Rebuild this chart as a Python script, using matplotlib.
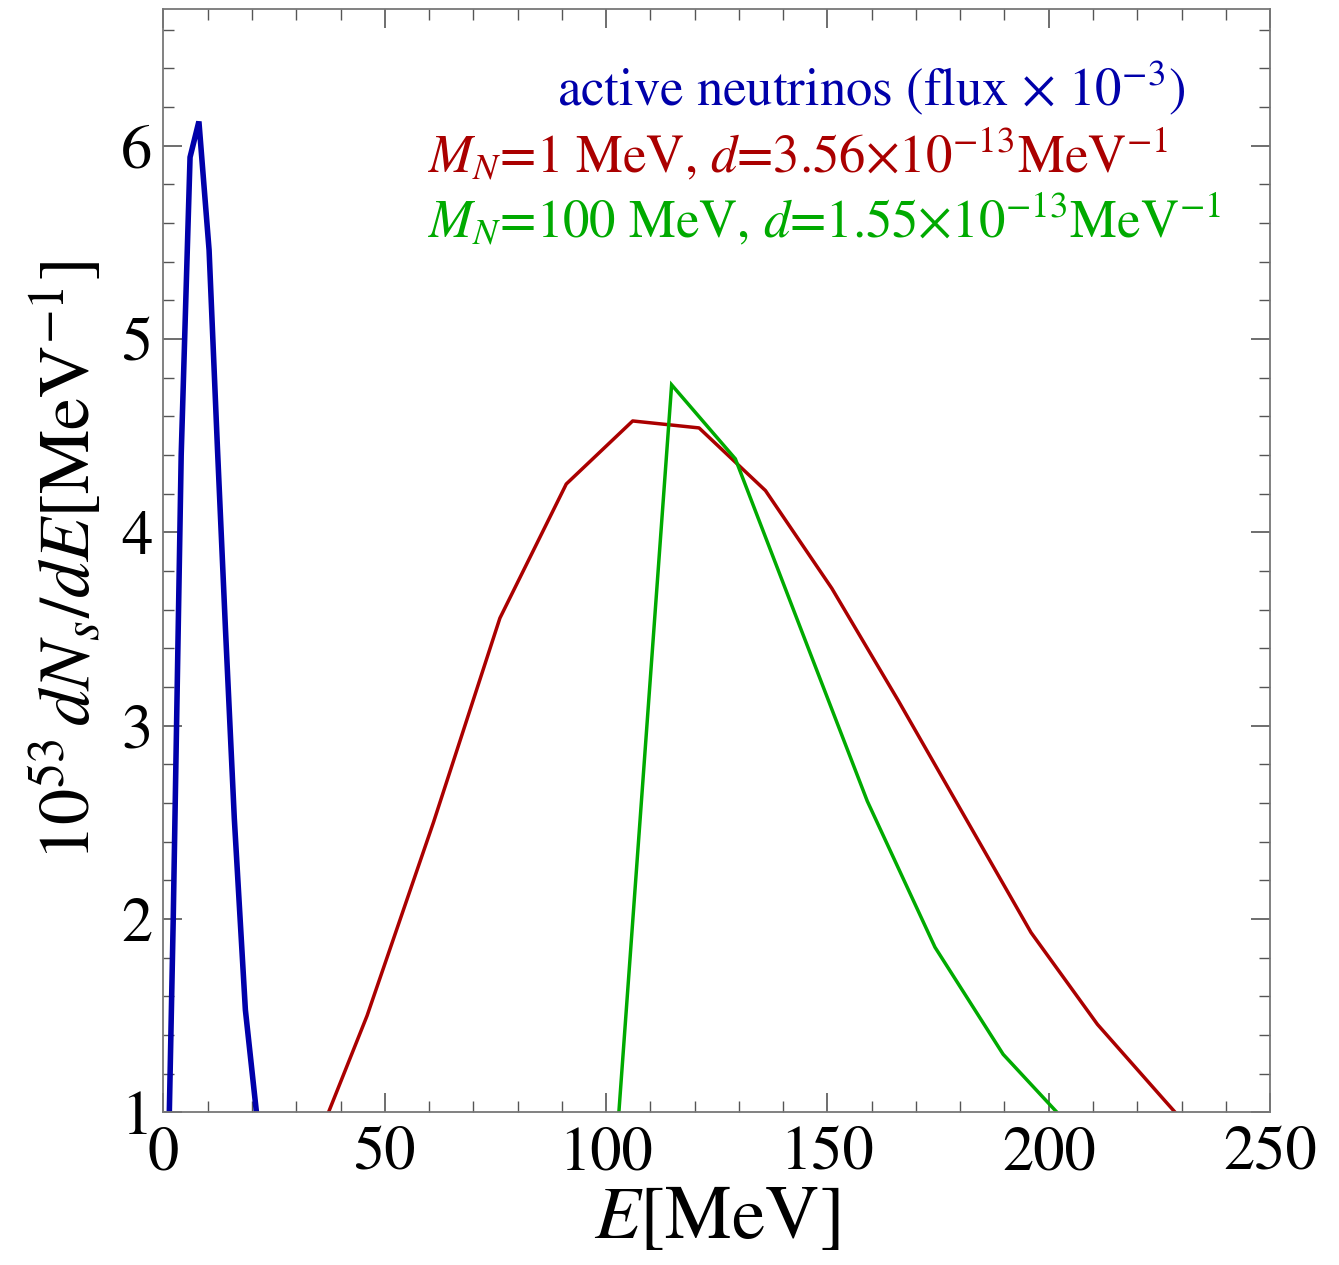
import numpy as np
import matplotlib
matplotlib.use('Agg')
import matplotlib.pyplot as plt
from matplotlib.ticker import MultipleLocator

plt.rcParams['font.family'] = 'STIXGeneral'
plt.rcParams['mathtext.fontset'] = 'stix'

# active neutrinos (flux x 1e-3)
e_active = [1.0, 2.2, 4.0, 6.0, 8.0, 10.3, 12.2, 14.0, 16.0, 18.5, 21.0, 23.0]
n_active = [0.64, 2.0, 4.4, 5.94, 6.125, 5.46, 4.43, 3.5, 2.52, 1.53, 1.0, 0.6]

# M_N = 1 MeV
e_m1 = [31, 46, 61, 76, 91, 106, 121, 136, 151, 166, 181, 196, 211, 226, 241]
n_m1 = [0.64, 1.50, 2.50, 3.556, 4.25, 4.576, 4.54, 4.216, 3.71, 3.13, 2.53, 1.93, 1.455, 1.066, 0.68]

# M_N = 100 MeV
e_m100 = [100, 114.8, 129.2, 144, 159, 174.3, 189.7, 204.7]
n_m100 = [0.09, 4.763, 4.38, 3.50, 2.61, 1.854, 1.30, 0.93]

blue = '#0000aa'
red = '#aa0000'
green = '#00aa00'

fig = plt.figure(figsize=(13.39, 12.65), dpi=100)
ax = fig.add_axes([0.1221, 0.1207, 0.8264, 0.8719])

ax.plot(e_active, n_active, color=blue, lw=4.0, solid_joinstyle='miter')
ax.plot(e_m1, n_m1, color=red, lw=2.5)
ax.plot(e_m100, n_m100, color=green, lw=2.5, solid_joinstyle='miter')

ax.set_xlim(0, 250)
ax.set_ylim(1, 6.705)
ax.xaxis.set_major_locator(MultipleLocator(50))
ax.xaxis.set_minor_locator(MultipleLocator(10))
ax.yaxis.set_major_locator(MultipleLocator(1))
ax.yaxis.set_minor_locator(MultipleLocator(0.2))

ax.tick_params(which='both', direction='in', top=True, right=True, color='#555555')
ax.tick_params(which='major', length=14, width=1.2, labelsize=45)
ax.tick_params(which='minor', length=8, width=1.0)
ax.tick_params(axis='x', pad=10)
ax.tick_params(axis='y', pad=8)
for s in ax.spines.values():
    s.set_color('#777777')
    s.set_linewidth(1.3)

ax.set_xlabel(r'$E$[MeV]', fontsize=54, labelpad=2)
ax.set_ylabel(r'$10^{53}\,dN_s/dE$[MeV$^{-1}$]', fontsize=52, labelpad=10)

ax.text(0.3556, 0.913, r'active neutrinos (flux × 10$^{-3}$)', color=blue,
        fontsize=38, transform=ax.transAxes, va='baseline', ha='left')
ax.text(0.239, 0.8525, r'$M_N$=1 MeV, $d$=3.56×10$^{-13}$MeV$^{-1}$', color=red,
        fontsize=38, transform=ax.transAxes, va='baseline', ha='left')
ax.text(0.239, 0.7936, r'$M_N$=100 MeV, $d$=1.55×10$^{-13}$MeV$^{-1}$', color=green,
        fontsize=38, transform=ax.transAxes, va='baseline', ha='left')

fig.savefig('out.png', dpi=100)
